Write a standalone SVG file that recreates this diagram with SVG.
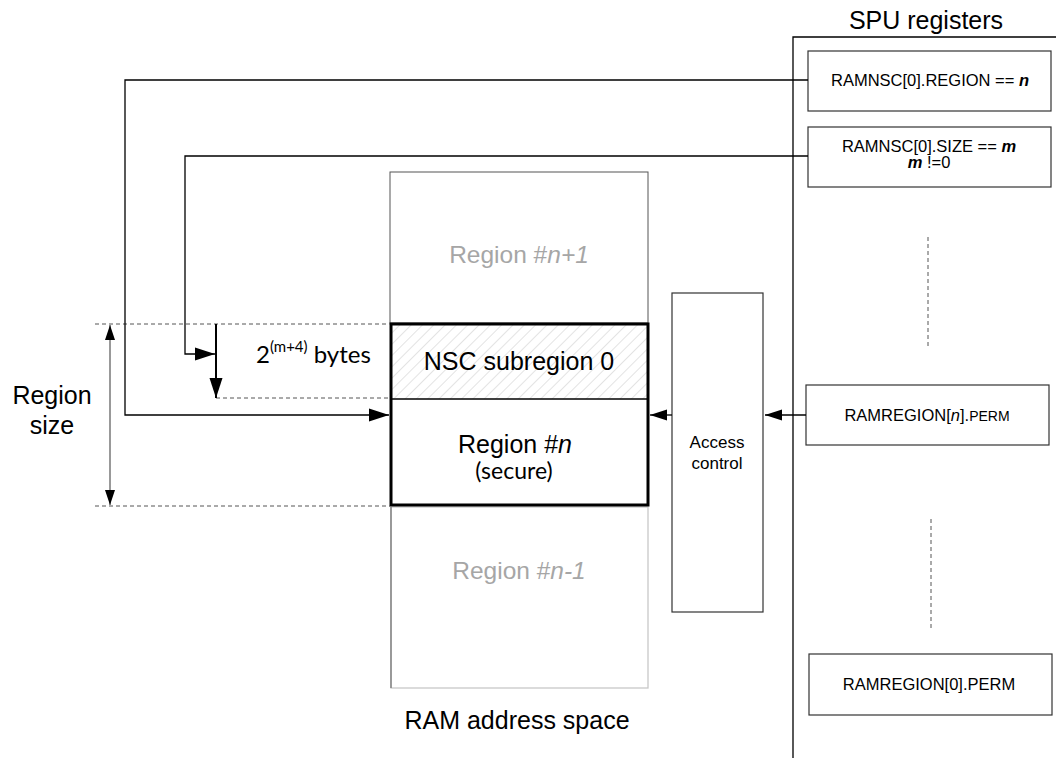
<svg xmlns="http://www.w3.org/2000/svg" width="1056" height="758" viewBox="0 0 1056 758">
<style>
text{font-family:"Liberation Sans",Arial,sans-serif;fill:#000}
.c{stroke:#000;stroke-width:1.3;fill:none}
.dash{stroke:#555;stroke-width:1;stroke-dasharray:4,3;fill:none}
.box{fill:#fff;stroke:#333;stroke-width:1.2}
.reg{font-size:16.5px;text-anchor:middle}
.gray{fill:#a6a6a6;font-size:24.5px;text-anchor:middle}
.big{font-size:25px;text-anchor:middle}
</style>
<defs>
<marker id="ahb" viewBox="0 0 20 14" refX="20" refY="7" markerWidth="20" markerHeight="14" markerUnits="userSpaceOnUse" orient="auto"><path d="M0,0.5 L20,7 L0,13.5 z" fill="#000"/></marker>
<marker id="ahm" viewBox="0 0 17 12" refX="17" refY="6" markerWidth="17" markerHeight="12" markerUnits="userSpaceOnUse" orient="auto"><path d="M0,0.5 L17,6 L0,11.5 z" fill="#000"/></marker>
<marker id="ahs" viewBox="0 0 15 11" refX="15" refY="5.5" markerWidth="15" markerHeight="11" markerUnits="userSpaceOnUse" orient="auto-start-reverse"><path d="M0,0.5 L15,5.5 L0,10.5 z" fill="#000"/></marker>
<pattern id="hatch" width="8" height="8" patternUnits="userSpaceOnUse" patternTransform="rotate(45)"><line x1="0" y1="0" x2="0" y2="8" stroke="#d0d0d0" stroke-width="1.2"/></pattern>
</defs>

<g id="spu-frame">
<text x="926" y="29" class="big">SPU registers</text>
<path d="M793,758 V37 H1056" class="c" stroke-width="1.2"/>
</g>

<g id="ram-regions">
<g id="region-n1">
<rect x="390" y="172" width="258" height="151" fill="#fff" stroke="#555" stroke-width="1"/>
<text x="519" y="263" class="gray">Region #<tspan font-style="italic">n+1</tspan></text>
</g>
<g id="region-nm1">
<rect x="391" y="507" width="257" height="181" fill="#fff" stroke="#c8c8c8" stroke-width="1.3"/>
<line x1="391" y1="507" x2="391" y2="688" stroke="#777" stroke-width="1.3"/>
<text x="519" y="579" class="gray">Region #<tspan font-style="italic">n-1</tspan></text>
</g>
<g id="nsc-subregion">
<rect x="391" y="324" width="257" height="75" fill="url(#hatch)"/>
<text x="519" y="370" class="big">NSC subregion 0</text>
</g>
<g id="region-n">
<line x1="391" y1="399" x2="648" y2="399" stroke="#000" stroke-width="1.3"/>
<rect x="391" y="324" width="257" height="181" fill="none" stroke="#000" stroke-width="3"/>
<text x="515" y="453" class="big">Region #<tspan font-style="italic">n</tspan></text>
<text x="514" y="479" font-size="23" text-anchor="middle" style="font-family:Lato,'Liberation Sans',sans-serif">(secure)</text>
</g>
<text x="517" y="729" class="big">RAM address space</text>
</g>

<g id="access-control">
<rect x="672" y="293" width="91" height="319" class="box"/>
<text x="717" y="448" font-size="17" text-anchor="middle">Access</text>
<text x="717" y="469" font-size="17" text-anchor="middle">control</text>
</g>

<g id="reg-region">
<rect x="808" y="51" width="243" height="60" class="box"/>
<text x="930" y="86" class="reg">RAMNSC[0].REGION == <tspan font-weight="bold" font-style="italic">n</tspan></text>
</g>
<g id="reg-size">
<rect x="808" y="127" width="243" height="60" class="box"/>
<text x="929" y="152" class="reg">RAMNSC[0].SIZE == <tspan font-weight="bold" font-style="italic">m</tspan></text>
<text x="929" y="168" class="reg"><tspan font-weight="bold" font-style="italic">m</tspan> !=0</text>
</g>
<g id="reg-perm-n">
<rect x="806" y="385" width="243" height="60" class="box"/>
<text x="927" y="421" class="reg">RAMREGION[<tspan font-style="italic">n</tspan>].<tspan font-size="14">PERM</tspan></text>
</g>
<g id="reg-perm-0">
<rect x="809" y="654" width="243" height="61" class="box"/>
<text x="929" y="690" class="reg">RAMREGION[0].PERM</text>
</g>

<g id="annotations">
<text x="52" y="404" class="big">Region</text>
<text x="52" y="434" class="big">size</text>
<text x="256" y="363" font-size="24" style="font-family:Lato,'Liberation Sans',sans-serif">2<tspan font-size="15" dy="-11">(m+4)</tspan><tspan dy="11"> bytes</tspan></text>
</g>

<g id="connectors">
<line x1="95" y1="324" x2="390" y2="324" class="dash"/>
<line x1="95" y1="506" x2="390" y2="506" class="dash"/>
<line x1="216" y1="398" x2="390" y2="398" class="dash"/>
<line x1="928" y1="237" x2="928" y2="349" class="dash"/>
<line x1="931" y1="519" x2="931" y2="630" class="dash"/>
<line x1="110" y1="325" x2="110" y2="505" stroke="#777" stroke-width="1.5" marker-start="url(#ahs)" marker-end="url(#ahs)"/>
<path d="M808,80 H125 V415 H389" class="c" marker-end="url(#ahb)"/>
<path d="M808,156 H185 V354 H215" class="c" marker-end="url(#ahb)"/>
<line x1="216" y1="324" x2="216" y2="398" stroke="#000" stroke-width="2" marker-end="url(#ahb)"/>
<line x1="672" y1="415" x2="650" y2="415" class="c" marker-end="url(#ahm)"/>
<line x1="806" y1="415" x2="765" y2="415" class="c" marker-end="url(#ahm)"/>
</g>
</svg>
